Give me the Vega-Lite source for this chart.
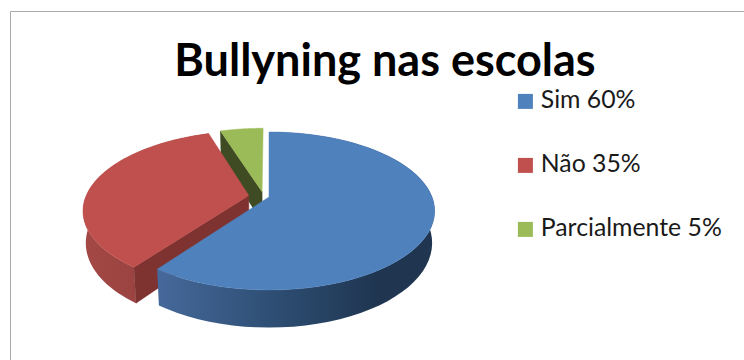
{
  "$schema": "https://vega.github.io/schema/vega-lite/v6.json",
  "width": 734,
  "height": 349,
  "autosize": "none",
  "padding": {"left": 10, "top": 11, "right": 0, "bottom": 0},
  "background": "white",
  "view": {"stroke": null},
  "title": {
    "text": "Bullyning nas escolas",
    "font": "Lato",
    "fontWeight": "bold",
    "fontSize": 45,
    "color": "#000000",
    "anchor": "middle",
    "baseline": "alphabetic",
    "offset": 0,
    "dx": 8,
    "dy": 110
  },
  "data": {
    "values": [
      {"slice": "Sim", "value": 60, "label": "Sim 60%"},
      {"slice": "Não", "value": 35, "label": "Não 35%"},
      {"slice": "Parcialmente", "value": 5, "label": "Parcialmente 5%"}
    ]
  },
  "transform": [
    {"window": [{"op": "sum", "field": "value", "as": "cum"}], "sort": [{"field": "value", "order": "descending"}]},
    {"calculate": "datum.cum - datum.value", "as": "start"},
    {"calculate": "['top', 'rim', 'wall']", "as": "part"},
    {"flatten": ["part"]},
    {"calculate": "sequence(0, 123)", "as": "i"},
    {"flatten": ["i"]},
    {"filter": "datum.part === 'rim' || (datum.part === 'top' && datum.i <= 62) || (datum.part === 'wall' && datum.i <= 4)"},
    {"calculate": "datum.part === 'top' ? (datum.i - 1) / 60 : datum.part === 'wall' ? 0 : datum.i <= 60 ? datum.i / 60 : datum.i <= 121 ? (121 - datum.i) / 60 : 0", "as": "f"},
    {"calculate": "datum.part === 'top' ? ((datum.i === 0 || datum.i === 62) ? 0 : 1) : datum.part === 'wall' ? [0, 1, 1, 0, 0][datum.i] : 1", "as": "r"},
    {"calculate": "datum.part === 'top' ? 0 : datum.part === 'wall' ? [0, 0, 1, 1, 0][datum.i] : (datum.i > 60 && datum.i <= 121 ? 1 : 0)", "as": "z"},
    {"calculate": "2 * PI * (datum.start + datum.value * datum.f) / 100", "as": "theta"},
    {"calculate": "(datum.slice === 'Não' ? -0.125 : datum.slice === 'Parcialmente' ? -0.043 : 0) + datum.r * sin(datum.theta)", "as": "planeX"},
    {"calculate": "(datum.slice === 'Não' ? 0.02 : datum.slice === 'Parcialmente' ? 0.068 : 0) + datum.r * cos(datum.theta)", "as": "planeY"},
    {"calculate": "1 + 0.177 * datum.planeY", "as": "w"},
    {"calculate": "datum.planeX / datum.w * (1 - 0.015 * datum.z)", "as": "sx"},
    {"calculate": "(datum.planeY - 0.405 * datum.z) / datum.w", "as": "sy"}
  ],
  "encoding": {
    "x": {
      "field": "sx",
      "type": "quantitative",
      "scale": {"domain": [-1.589, 2.914], "nice": false, "zero": false},
      "axis": {"orient": "top", "title": null, "labels": false, "ticks": false, "grid": false, "domainColor": "#ababab", "domainWidth": 1}
    },
    "y": {
      "field": "sy",
      "type": "quantitative",
      "scale": {"domain": [-2.1307, 2.4314], "nice": false, "zero": false},
      "axis": {"orient": "left", "title": null, "labels": false, "ticks": false, "grid": false, "domainColor": "#ababab", "domainWidth": 1}
    },
    "order": {"field": "i", "type": "quantitative"}
  },
  "layer": [
    {
      "transform": [{"filter": "datum.slice === 'Parcialmente' && datum.part === 'wall'"}],
      "mark": {"type": "line", "fill": "#3F4B22", "stroke": "#3F4B22", "strokeWidth": 0.5}
    },
    {
      "transform": [{"filter": "datum.slice === 'Parcialmente' && datum.part === 'top'"}],
      "mark": {"type": "line", "stroke": "#9BBB59", "strokeWidth": 0.5},
      "encoding": {
        "fill": {
          "field": "label",
          "type": "nominal",
          "scale": {"domain": ["Sim 60%", "Não 35%", "Parcialmente 5%"], "range": ["#4F81BD", "#C0504D", "#9BBB59"]},
          "legend": {
            "orient": "none",
            "legendX": 503,
            "legendY": 78,
            "title": null,
            "symbolType": "square",
            "symbolSize": 225,
            "symbolStrokeWidth": 0,
            "labelFont": "Lato",
            "labelFontSize": 24.8,
            "labelColor": "#1a1a1a",
            "labelOffset": 3,
            "rowPadding": 38,
            "labelLimit": 260
          }
        }
      }
    },
    {
      "transform": [{"filter": "datum.slice === 'Não' && datum.part === 'rim'"}],
      "mark": {
        "type": "line",
        "strokeWidth": 0,
        "fill": {"gradient": "linear", "x1": 0, "y1": 0, "x2": 1, "y2": 0, "stops": [{"offset": 0, "color": "#A34845"}, {"offset": 1, "color": "#8E3D3A"}]}
      }
    },
    {
      "transform": [{"filter": "datum.slice === 'Não' && datum.part === 'wall'"}],
      "mark": {"type": "line", "fill": "#7F3331", "stroke": "#7F3331", "strokeWidth": 0.5}
    },
    {
      "transform": [{"filter": "datum.slice === 'Não' && datum.part === 'top'"}],
      "mark": {"type": "line", "stroke": "#C0504D", "strokeWidth": 0.5},
      "encoding": {"fill": {"field": "label", "type": "nominal"}}
    },
    {
      "transform": [{"filter": "datum.slice === 'Sim' && datum.part === 'rim'"}],
      "mark": {
        "type": "line",
        "strokeWidth": 0,
        "fill": {"gradient": "linear", "x1": 0, "y1": 0, "x2": 1, "y2": 0, "stops": [{"offset": 0, "color": "#46699B"}, {"offset": 0.45, "color": "#2C4C70"}, {"offset": 0.8, "color": "#1F3550"}, {"offset": 1, "color": "#1F3550"}]}
      }
    },
    {
      "transform": [{"filter": "datum.slice === 'Sim' && datum.part === 'top'"}],
      "mark": {"type": "line", "stroke": "#4F81BD", "strokeWidth": 0.5},
      "encoding": {"fill": {"field": "label", "type": "nominal"}}
    }
  ]
}
